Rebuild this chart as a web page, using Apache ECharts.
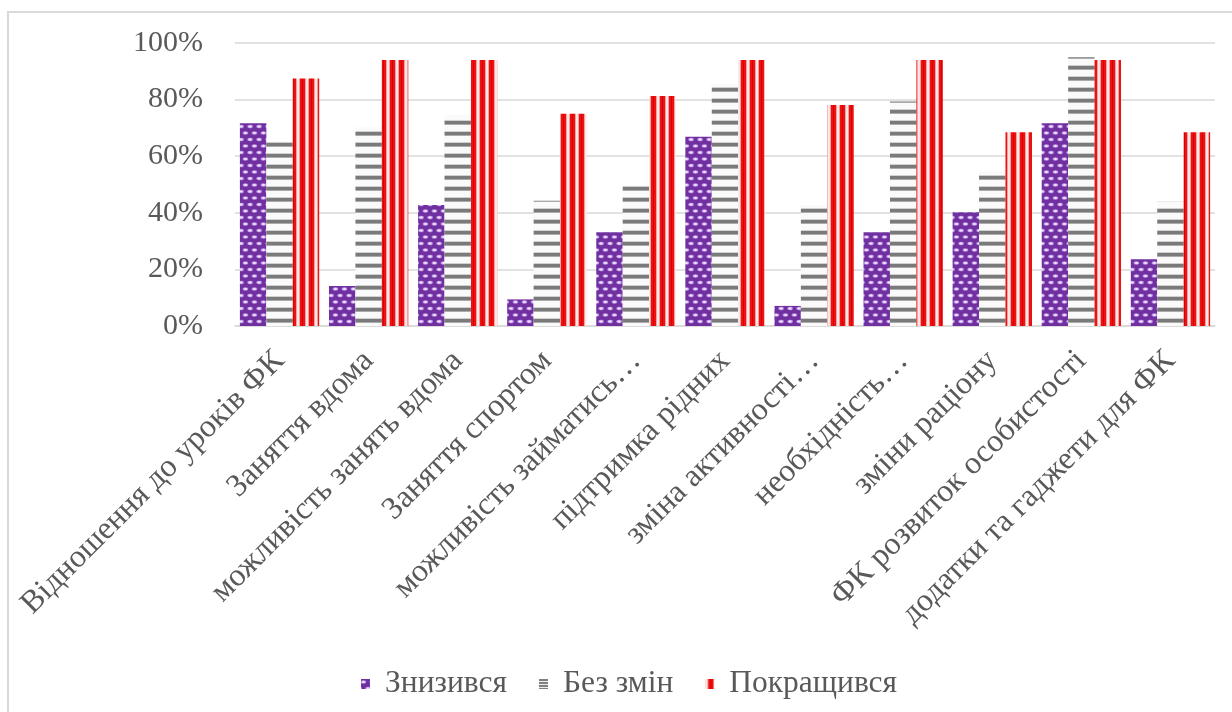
<!DOCTYPE html>
<html><head><meta charset="utf-8">
<script src="https://cdn.jsdelivr.net/npm/echarts@6/dist/echarts.min.js"></script>
<style>html,body{margin:0;padding:0;background:#fff}#c{width:1232px;height:712px}</style>
</head><body><div id="c"></div>
<script>
const categories = [
  'Відношення до уроків ФК',
  'Заняття вдома',
  'можливість занять вдома',
  'Заняття спортом',
  'можливість займатись…',
  'підтримка рідних',
  'зміна активності…',
  'необхідність…',
  'зміни раціону',
  'ФК розвиток особистості',
  'додатки та гаджети для ФК'
];
const seriesNames = ['Знизився', 'Без змін', 'Покращився'];
const decreased = [71.6, 14.1, 42.8, 9.4, 33.1, 66.9, 7.1, 33.1, 40.2, 71.6, 23.6];
const unchanged = [65.4, 70.2, 74.6, 44.3, 49.8, 85.5, 42.8, 79.3, 54.9, 95.0, 43.9];
const improved  = [87.5, 94.0, 94.0, 75.0, 81.3, 94.0, 78.1, 94.0, 68.5, 94.0, 68.5];
const yMin = 0, yMax = 100, yStep = 20;

function mk(w, h, draw) {
  const c = document.createElement('canvas');
  c.width = w; c.height = h;
  draw(c.getContext('2d'));
  return { image: c, repeat: 'repeat' };
}
const purpleFill = mk(9, 13, g => {
  g.fillStyle = '#7030A0'; g.fillRect(0, 0, 9, 13);
  const dot = (x, y) => {
    g.fillStyle = '#C39BEA';
    g.beginPath(); g.ellipse(x, y, 2.8, 1.8, 0, 0, Math.PI * 2); g.fill();
    g.fillStyle = '#F0E4FC';
    g.beginPath(); g.ellipse(x, y, 1.5, 1.0, 0, 0, Math.PI * 2); g.fill();
  };
  dot(2.5, 3); dot(7, 9.5); dot(-2, 9.5); dot(11.5, 3);
});
const grayFill = mk(4, 11, g => {
  g.fillStyle = '#FAFAFA'; g.fillRect(0, 0, 4, 11);
  g.fillStyle = '#7A7A7A'; g.fillRect(0, 0, 4, 3);
  g.fillStyle = '#ABABAB'; g.fillRect(0, 3, 4, 1);
  g.fillStyle = '#D0D0D0'; g.fillRect(0, 10, 4, 1);
});
const grayIconFill = mk(4, 3, g => {
  g.fillStyle = '#EDEDED'; g.fillRect(0, 0, 4, 3);
  g.fillStyle = '#808080'; g.fillRect(0, 0, 4, 2);
});
const redFill = mk(9, 4, g => {
  g.fillStyle = '#FDE6E6'; g.fillRect(0, 0, 9, 4);
  g.fillStyle = '#F4A0A0'; g.fillRect(2, 0, 1, 4); g.fillRect(8, 0, 1, 4);
  g.fillStyle = '#EE1111'; g.fillRect(3, 0, 5, 4);
  g.fillStyle = '#D80000'; g.fillRect(5, 0, 1, 4);
});

const FONT = 'Liberation Serif';
const TXT = '#595959';
const chart = echarts.init(document.getElementById('c'), null, { renderer: 'canvas' });
chart.setOption({
  animation: false,
  backgroundColor: '#fff',
  graphic: [{
    type: 'rect', silent: true, z: -10,
    shape: { x: 8, y: 12, width: 1400, height: 900 },
    style: { fill: 'none', stroke: '#D9D9D9', lineWidth: 2 }
  }],
  grid: { left: 235, right: 17, top: 43, bottom: 386, containLabel: false },
  legend: {
    data: [
      { name: seriesNames[0] },
      { name: seriesNames[1], itemStyle: { color: grayIconFill } },
      { name: seriesNames[2] }
    ],
    left: 356, top: 663,
    icon: 'rect', itemWidth: 9, itemHeight: 10, itemGap: 32,
    textStyle: { fontFamily: FONT, fontSize: 31.5, color: TXT, padding: [0, 0, 0, 10] }
  },
  xAxis: {
    type: 'category', data: categories,
    axisLine: { show: true, lineStyle: { color: '#D9D9D9', width: 1.5 } },
    axisTick: { show: false },
    axisLabel: { interval: 0, rotate: 45, margin: 30, fontFamily: FONT, fontSize: 32, color: TXT }
  },
  yAxis: {
    type: 'value', min: yMin, max: yMax, interval: yStep,
    axisLine: { show: false }, axisTick: { show: false },
    splitLine: { lineStyle: { color: '#D9D9D9', width: 1.5 } },
    axisLabel: { formatter: '{value}%', margin: 32, fontFamily: FONT, fontSize: 30, color: TXT }
  },
  series: [
    { name: seriesNames[0], type: 'bar', data: decreased, barGap: '0%', barCategoryGap: '11%', itemStyle: { color: purpleFill } },
    { name: seriesNames[1], type: 'bar', data: unchanged, barGap: '0%', barCategoryGap: '11%', itemStyle: { color: grayFill } },
    { name: seriesNames[2], type: 'bar', data: improved, barGap: '0%', barCategoryGap: '11%', itemStyle: { color: redFill } }
  ]
});
</script></body></html>
